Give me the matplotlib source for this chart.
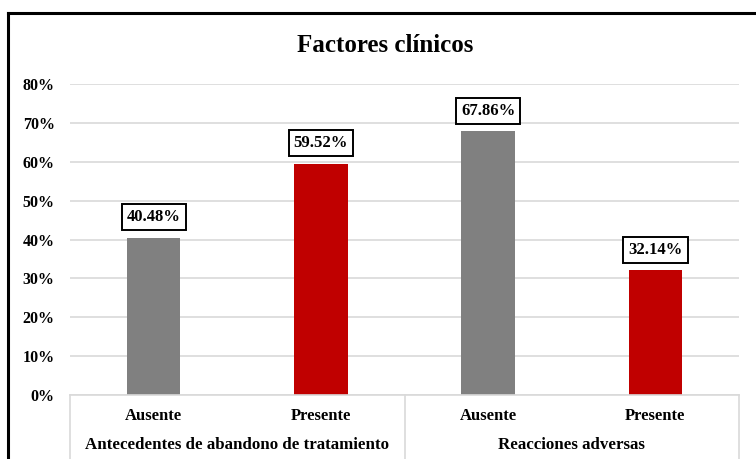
import matplotlib
matplotlib.use("Agg")
import matplotlib.pyplot as plt
from matplotlib.lines import Line2D

categories = ["Ausente", "Presente", "Ausente", "Presente"]
groups = ["Antecedentes de abandono de tratamiento", "Reacciones adversas"]
values = [0.4048, 0.5952, 0.6786, 0.3214]
labels = ["40.48%", "59.52%", "67.86%", "32.14%"]
colors = ["#808080", "#C00000", "#808080", "#C00000"]
yticks = [0, 0.1, 0.2, 0.3, 0.4, 0.5, 0.6, 0.7, 0.8]
ytick_labels = ["0%", "10%", "20%", "30%", "40%", "50%", "60%", "70%", "80%"]
title = "Factores clínicos"

plt.rcParams['font.family'] = ['Liberation Serif', 'DejaVu Serif']

fig = plt.figure(figsize=(7.56, 4.59), dpi=100)
ax = fig.add_axes([70/756, 1-395/459, (739-70)/756, (395-84)/459])

x = list(range(len(values)))
ax.bar(x, values, width=0.32, color=colors, zorder=3)
ax.set_xlim(-0.5, len(values)-0.5)
ax.set_ylim(0, 0.8)
ax.set_yticks(yticks)
ax.set_yticklabels(ytick_labels, fontsize=11.5, fontweight='bold')
ax.tick_params(axis='y', length=0, pad=11)
ax.yaxis.grid(True, color='#d9d9d9', linewidth=1.2, zorder=0)
for s in ax.spines.values():
    s.set_visible(False)
ax.set_xticks(x)
ax.set_xticklabels(categories, fontsize=12, fontweight='bold')
ax.tick_params(axis='x', length=0, pad=9)

for xi, v, lab in zip(x, values, labels):
    ax.annotate(lab, (xi, v), xytext=(0, 14.5), textcoords='offset points',
                ha='center', va='center', fontsize=12, fontweight='bold',
                bbox=dict(boxstyle='square,pad=0.3', fc='white', ec='black', lw=1.4),
                zorder=5)

# two-level axis
trans = ax.get_xaxis_transform()
ax.plot([-0.5, 3.5], [0, 0], color='#d9d9d9', lw=1.2, transform=trans, clip_on=False, zorder=4)
ybot = -(459-395)/(395-84)
for xs in [-0.5, 1.5, 3.5]:
    ax.plot([xs, xs], [0, ybot], color='#d9d9d9', lw=1.2, transform=trans, clip_on=False)
for gi, g in enumerate(groups):
    ax.text(0.5 + 2*gi, -(445-395)/(395-84), g, transform=trans, ha='center', va='center',
            fontsize=12.2, fontweight='bold')

fig.text(385/756, 1-45/459, title, ha='center', va='center', fontsize=18, fontweight='bold')

# outer border (cropped)
fig.add_artist(Line2D([8/756, 1], [1-13/459, 1-13/459], color='black', lw=2.2, transform=fig.transFigure))
fig.add_artist(Line2D([8/756, 8/756], [0, 1-13/459], color='black', lw=2.2, transform=fig.transFigure))

fig.savefig("out.png", dpi=100)
